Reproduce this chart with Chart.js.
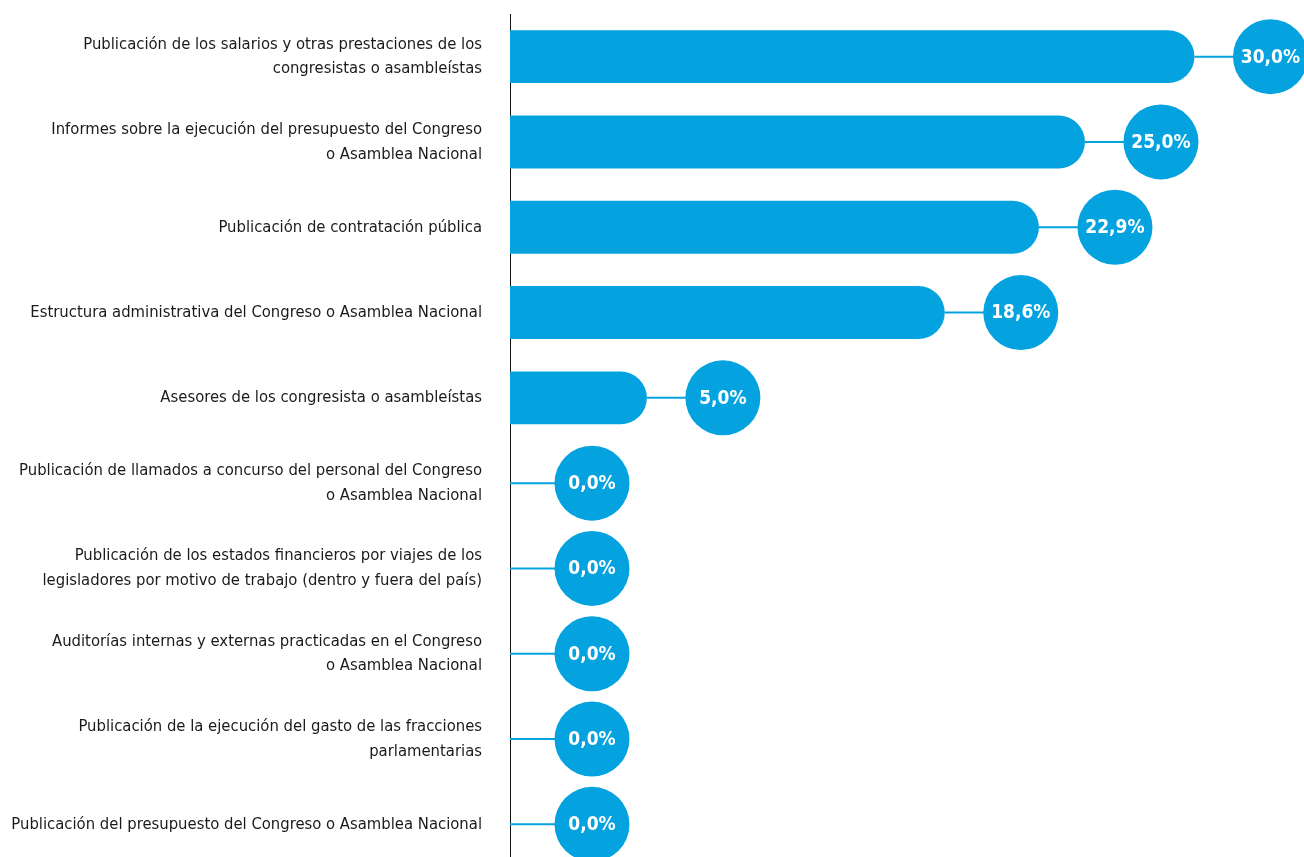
<!DOCTYPE html>
<html>
<head>
<meta charset="utf-8">
<script src="https://cdn.jsdelivr.net/npm/chart.js@4/dist/chart.umd.min.js"></script>
<style>
    html, body { margin: 0; padding: 0; background: #fff; overflow: hidden; }
    #wrap { width: 1304px; height: 867px; position: relative; }
</style>
</head>
<body>
<div id="wrap"><canvas id="chart"></canvas></div>
<script>
const categories = [
    ['Publicación de los salarios y otras prestaciones de los', 'congresistas o asambleístas'],
    ['Informes sobre la ejecución del presupuesto del Congreso', 'o Asamblea Nacional'],
    'Publicación de contratación pública',
    'Estructura administrativa del Congreso o Asamblea Nacional',
    'Asesores de los congresista o asambleístas',
    ['Publicación de llamados a concurso del personal del Congreso', 'o Asamblea Nacional'],
    ['Publicación de los estados financieros por viajes de los', 'legisladores por motivo de trabajo (dentro y fuera del país)'],
    ['Auditorías internas y externas practicadas en el Congreso', 'o Asamblea Nacional'],
    ['Publicación de la ejecución del gasto de las fracciones', 'parlamentarias'],
    'Publicación del presupuesto del Congreso o Asamblea Nacional'
];
const values = [30.0, 25.0, 22.9, 18.6, 5.0, 0.0, 0.0, 0.0, 0.0, 0.0];
const labels = ['30,0%', '25,0%', '22,9%', '18,6%', '5,0%', '0,0%', '0,0%', '0,0%', '0,0%', '0,0%'];

const BLUE = '#04a3e0';
const X_MIN = -1.25;
const X_MAX = 35;
const FONT = '"DejaVu Sans Condensed", "Liberation Sans Narrow", sans-serif';

// bubbles with the value, joined to the bar end by a thin line
const bubbles = {
    id: 'bubbles',
    afterDatasetsDraw(chart) {
        const ctx = chart.ctx;
        const x = chart.scales.x;
        const y = chart.scales.y;
        const area = chart.chartArea;
        ctx.save();
        values.forEach((v, i) => {
            const cy = y.getPixelForValue(i);
            const start = v > 0 ? x.getPixelForValue(v) : area.left;
            const cx = v > 0 ? start + 76 : area.left + 82;
            ctx.strokeStyle = BLUE;
            ctx.lineWidth = 2;
            ctx.beginPath();
            ctx.moveTo(start, cy);
            ctx.lineTo(cx, cy);
            ctx.stroke();
            ctx.fillStyle = BLUE;
            ctx.beginPath();
            ctx.arc(cx, cy, 37.5, 0, Math.PI * 2);
            ctx.fill();
            ctx.fillStyle = '#fff';
            ctx.font = 'bold 19px ' + FONT;
            ctx.textAlign = 'center';
            ctx.textBaseline = 'middle';
            ctx.fillText(labels[i], cx, cy + 1);
        });
        ctx.restore();
    }
};

new Chart(document.getElementById('chart'), {
    type: 'bar',
    data: {
        labels: categories,
        datasets: [{
            data: values.map(v => v > 0 ? v : null),
            base: X_MIN,
            backgroundColor: BLUE,
            borderRadius: 27,
            categoryPercentage: 1,
            barPercentage: 0.62
        }]
    },
    options: {
        indexAxis: 'y',
        responsive: true,
        maintainAspectRatio: false,
        animation: false,
        layout: { padding: { top: 14, right: 0, bottom: 0, left: 0 } },
        plugins: {
            legend: { display: false },
            tooltip: { enabled: false }
        },
        scales: {
            x: {
                display: false,
                min: X_MIN,
                max: X_MAX
            },
            y: {
                afterFit(scale) {
                    scale.width = 510;
                    scale.paddingTop = 0;
                    scale.paddingBottom = 0;
                },
                grid: { display: false, drawTicks: false },
                border: { display: true, color: '#111', width: 1 },
                ticks: {
                    padding: 28,
                    color: '#1a1a1a',
                    font: { family: FONT, size: 16.5, lineHeight: 1.5 },
                    autoSkip: false
                }
            }
        }
    },
    plugins: [bubbles]
});
</script>
</body>
</html>
